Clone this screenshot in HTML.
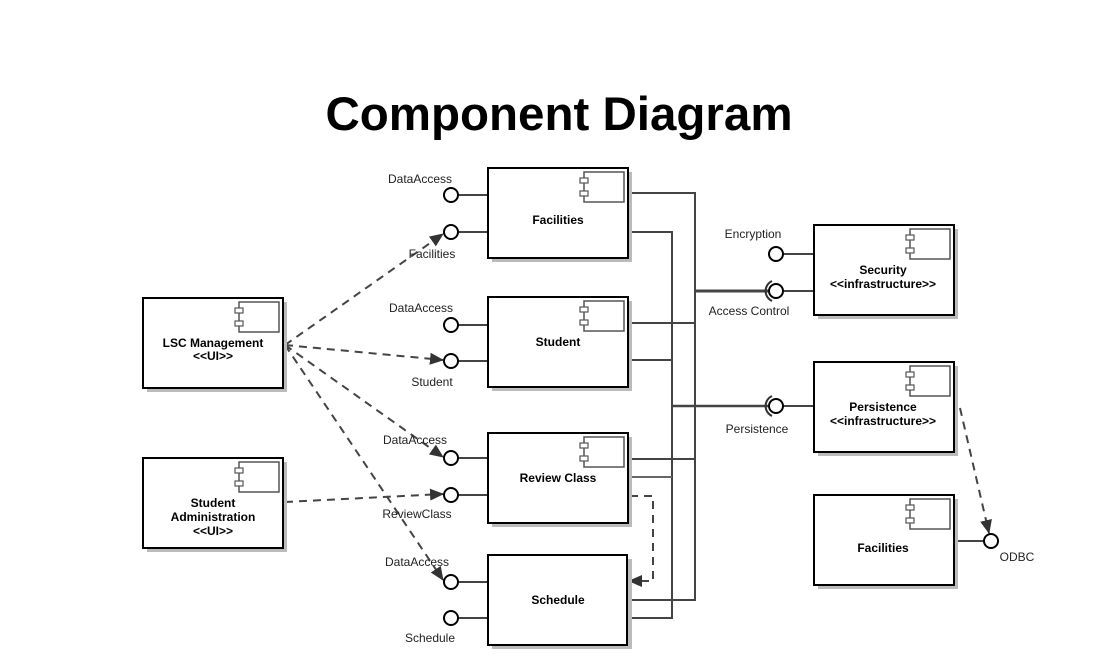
<!DOCTYPE html>
<html><head><meta charset="utf-8"><style>
body{margin:0;background:#fff;}
svg text{font-family:"Liberation Sans",Arial,sans-serif;}
</style></head><body>
<svg width="1110" height="665" viewBox="0 0 1110 665" xmlns="http://www.w3.org/2000/svg">
<defs>
<marker id="ar" markerWidth="14" markerHeight="14" refX="13" refY="7" orient="auto" markerUnits="userSpaceOnUse" viewBox="0 0 14 14">
<path d="M0,1 L14,7 L0,13 z" fill="#333"/></marker>
<g id="icon">
<rect x="0" y="0" width="40" height="30" fill="#fff" stroke="#555" stroke-width="1.5"/>
<rect x="-4" y="6" width="8" height="5" fill="#fff" stroke="#555" stroke-width="1.2"/>
<rect x="-4" y="19" width="8" height="5" fill="#fff" stroke="#555" stroke-width="1.2"/>
</g>
</defs>
<text x="559" y="130" font-size="47.5" font-weight="bold" text-anchor="middle" fill="#000">Component Diagram</text>

<g fill="none" stroke="#444" stroke-width="2">
<polyline points="628,193 695,193 695,600 628,600"/>
<polyline points="628,232 672,232 672,618 628,618"/>
<line x1="628" y1="323" x2="695" y2="323"/>
<line x1="628" y1="360" x2="672" y2="360"/>
<line x1="628" y1="459" x2="695" y2="459"/>
<line x1="628" y1="477" x2="672" y2="477" stroke="#666"/>
<line x1="695" y1="291" x2="768" y2="291" stroke-width="3"/>
<line x1="672" y1="406" x2="768" y2="406" stroke-width="2.5"/>
<line x1="783" y1="254" x2="814" y2="254"/>
<line x1="783" y1="291" x2="814" y2="291"/>
<line x1="783" y1="406" x2="814" y2="406"/>
<line x1="954" y1="541" x2="984" y2="541"/>
<line x1="458" y1="195" x2="488" y2="195"/>
<line x1="458" y1="232" x2="488" y2="232"/>
<line x1="458" y1="325" x2="488" y2="325"/>
<line x1="458" y1="361" x2="488" y2="361"/>
<line x1="458" y1="458" x2="488" y2="458"/>
<line x1="458" y1="495" x2="488" y2="495"/>
<line x1="458" y1="582" x2="488" y2="582"/>
<line x1="458" y1="618" x2="488" y2="618"/>
</g>

<g fill="none" stroke="#444" stroke-width="2" stroke-dasharray="8,6" marker-end="url(#ar)">
<line x1="285" y1="345" x2="443" y2="234"/>
<line x1="285" y1="345" x2="443" y2="360"/>
<line x1="285" y1="345" x2="443" y2="457"/>
<line x1="285" y1="345" x2="443" y2="580"/>
<line x1="285" y1="502" x2="443" y2="494"/>
<polyline points="630,496 653,496 653,581 629,581"/>
<line x1="960" y1="408" x2="989" y2="533"/>
</g>

<g fill="none" stroke="#333" stroke-width="2">
<path d="M772,281 A11,11 0 0 0 772,301"/>
<path d="M772,396 A11,11 0 0 0 772,416"/>
</g>
<g fill="#fff" stroke="#000" stroke-width="2">
<circle cx="451" cy="195" r="7"/><circle cx="451" cy="232" r="7"/>
<circle cx="451" cy="325" r="7"/><circle cx="451" cy="361" r="7"/>
<circle cx="451" cy="458" r="7"/><circle cx="451" cy="495" r="7"/>
<circle cx="451" cy="582" r="7"/><circle cx="451" cy="618" r="7"/>
<circle cx="776" cy="254" r="7"/><circle cx="776" cy="291" r="7"/>
<circle cx="776" cy="406" r="7"/><circle cx="991" cy="541" r="7"/>
</g>

<g>
<g transform="translate(488,168)"><rect x="4" y="4" width="140" height="90" fill="#bbb"/><rect width="140" height="90" fill="#fff" stroke="#000" stroke-width="2"/><use href="#icon" x="96" y="4"/></g>
<g transform="translate(488,297)"><rect x="4" y="4" width="140" height="90" fill="#bbb"/><rect width="140" height="90" fill="#fff" stroke="#000" stroke-width="2"/><use href="#icon" x="96" y="4"/></g>
<g transform="translate(488,433)"><rect x="4" y="4" width="140" height="90" fill="#bbb"/><rect width="140" height="90" fill="#fff" stroke="#000" stroke-width="2"/><use href="#icon" x="96" y="4"/></g>
<g transform="translate(488,555)"><rect x="4" y="4" width="140" height="90" fill="#bbb"/><rect width="139" height="90" fill="#fff" stroke="#000" stroke-width="2"/></g>
<g transform="translate(143,298)"><rect x="4" y="4" width="140" height="90" fill="#bbb"/><rect width="140" height="90" fill="#fff" stroke="#000" stroke-width="2"/><use href="#icon" x="96" y="4"/></g>
<g transform="translate(143,458)"><rect x="4" y="4" width="140" height="90" fill="#bbb"/><rect width="140" height="90" fill="#fff" stroke="#000" stroke-width="2"/><use href="#icon" x="96" y="4"/></g>
<g transform="translate(814,225)"><rect x="4" y="4" width="140" height="90" fill="#bbb"/><rect width="140" height="90" fill="#fff" stroke="#000" stroke-width="2"/><use href="#icon" x="96" y="4"/></g>
<g transform="translate(814,362)"><rect x="4" y="4" width="140" height="90" fill="#bbb"/><rect width="140" height="90" fill="#fff" stroke="#000" stroke-width="2"/><use href="#icon" x="96" y="4"/></g>
<g transform="translate(814,495)"><rect x="4" y="4" width="140" height="90" fill="#bbb"/><rect width="140" height="90" fill="#fff" stroke="#000" stroke-width="2"/><use href="#icon" x="96" y="4"/></g>
</g>

<g font-size="12" font-weight="bold" text-anchor="middle" fill="#000">
<text x="558" y="224">Facilities</text>
<text x="558" y="346">Student</text>
<text x="558" y="482">Review Class</text>
<text x="558" y="604">Schedule</text>
<text x="213" y="347">LSC Management</text>
<text x="213" y="360">&lt;&lt;UI&gt;&gt;</text>
<text x="213" y="507">Student</text>
<text x="213" y="521">Administration</text>
<text x="213" y="535">&lt;&lt;UI&gt;&gt;</text>
<text x="883" y="274">Security</text>
<text x="883" y="288">&lt;&lt;infrastructure&gt;&gt;</text>
<text x="883" y="411">Persistence</text>
<text x="883" y="425">&lt;&lt;infrastructure&gt;&gt;</text>
<text x="883" y="552">Facilities</text>
</g>
<g font-size="12" fill="#222" text-anchor="middle">
<text x="420" y="183">DataAccess</text>
<text x="432" y="258">Facilities</text>
<text x="421" y="312">DataAccess</text>
<text x="432" y="386">Student</text>
<text x="415" y="444">DataAccess</text>
<text x="417" y="518">ReviewClass</text>
<text x="417" y="566">DataAccess</text>
<text x="430" y="642">Schedule</text>
<text x="753" y="238">Encryption</text>
<text x="749" y="315">Access Control</text>
<text x="757" y="433">Persistence</text>
<text x="1017" y="561">ODBC</text>
</g>
</svg>
</body></html>
